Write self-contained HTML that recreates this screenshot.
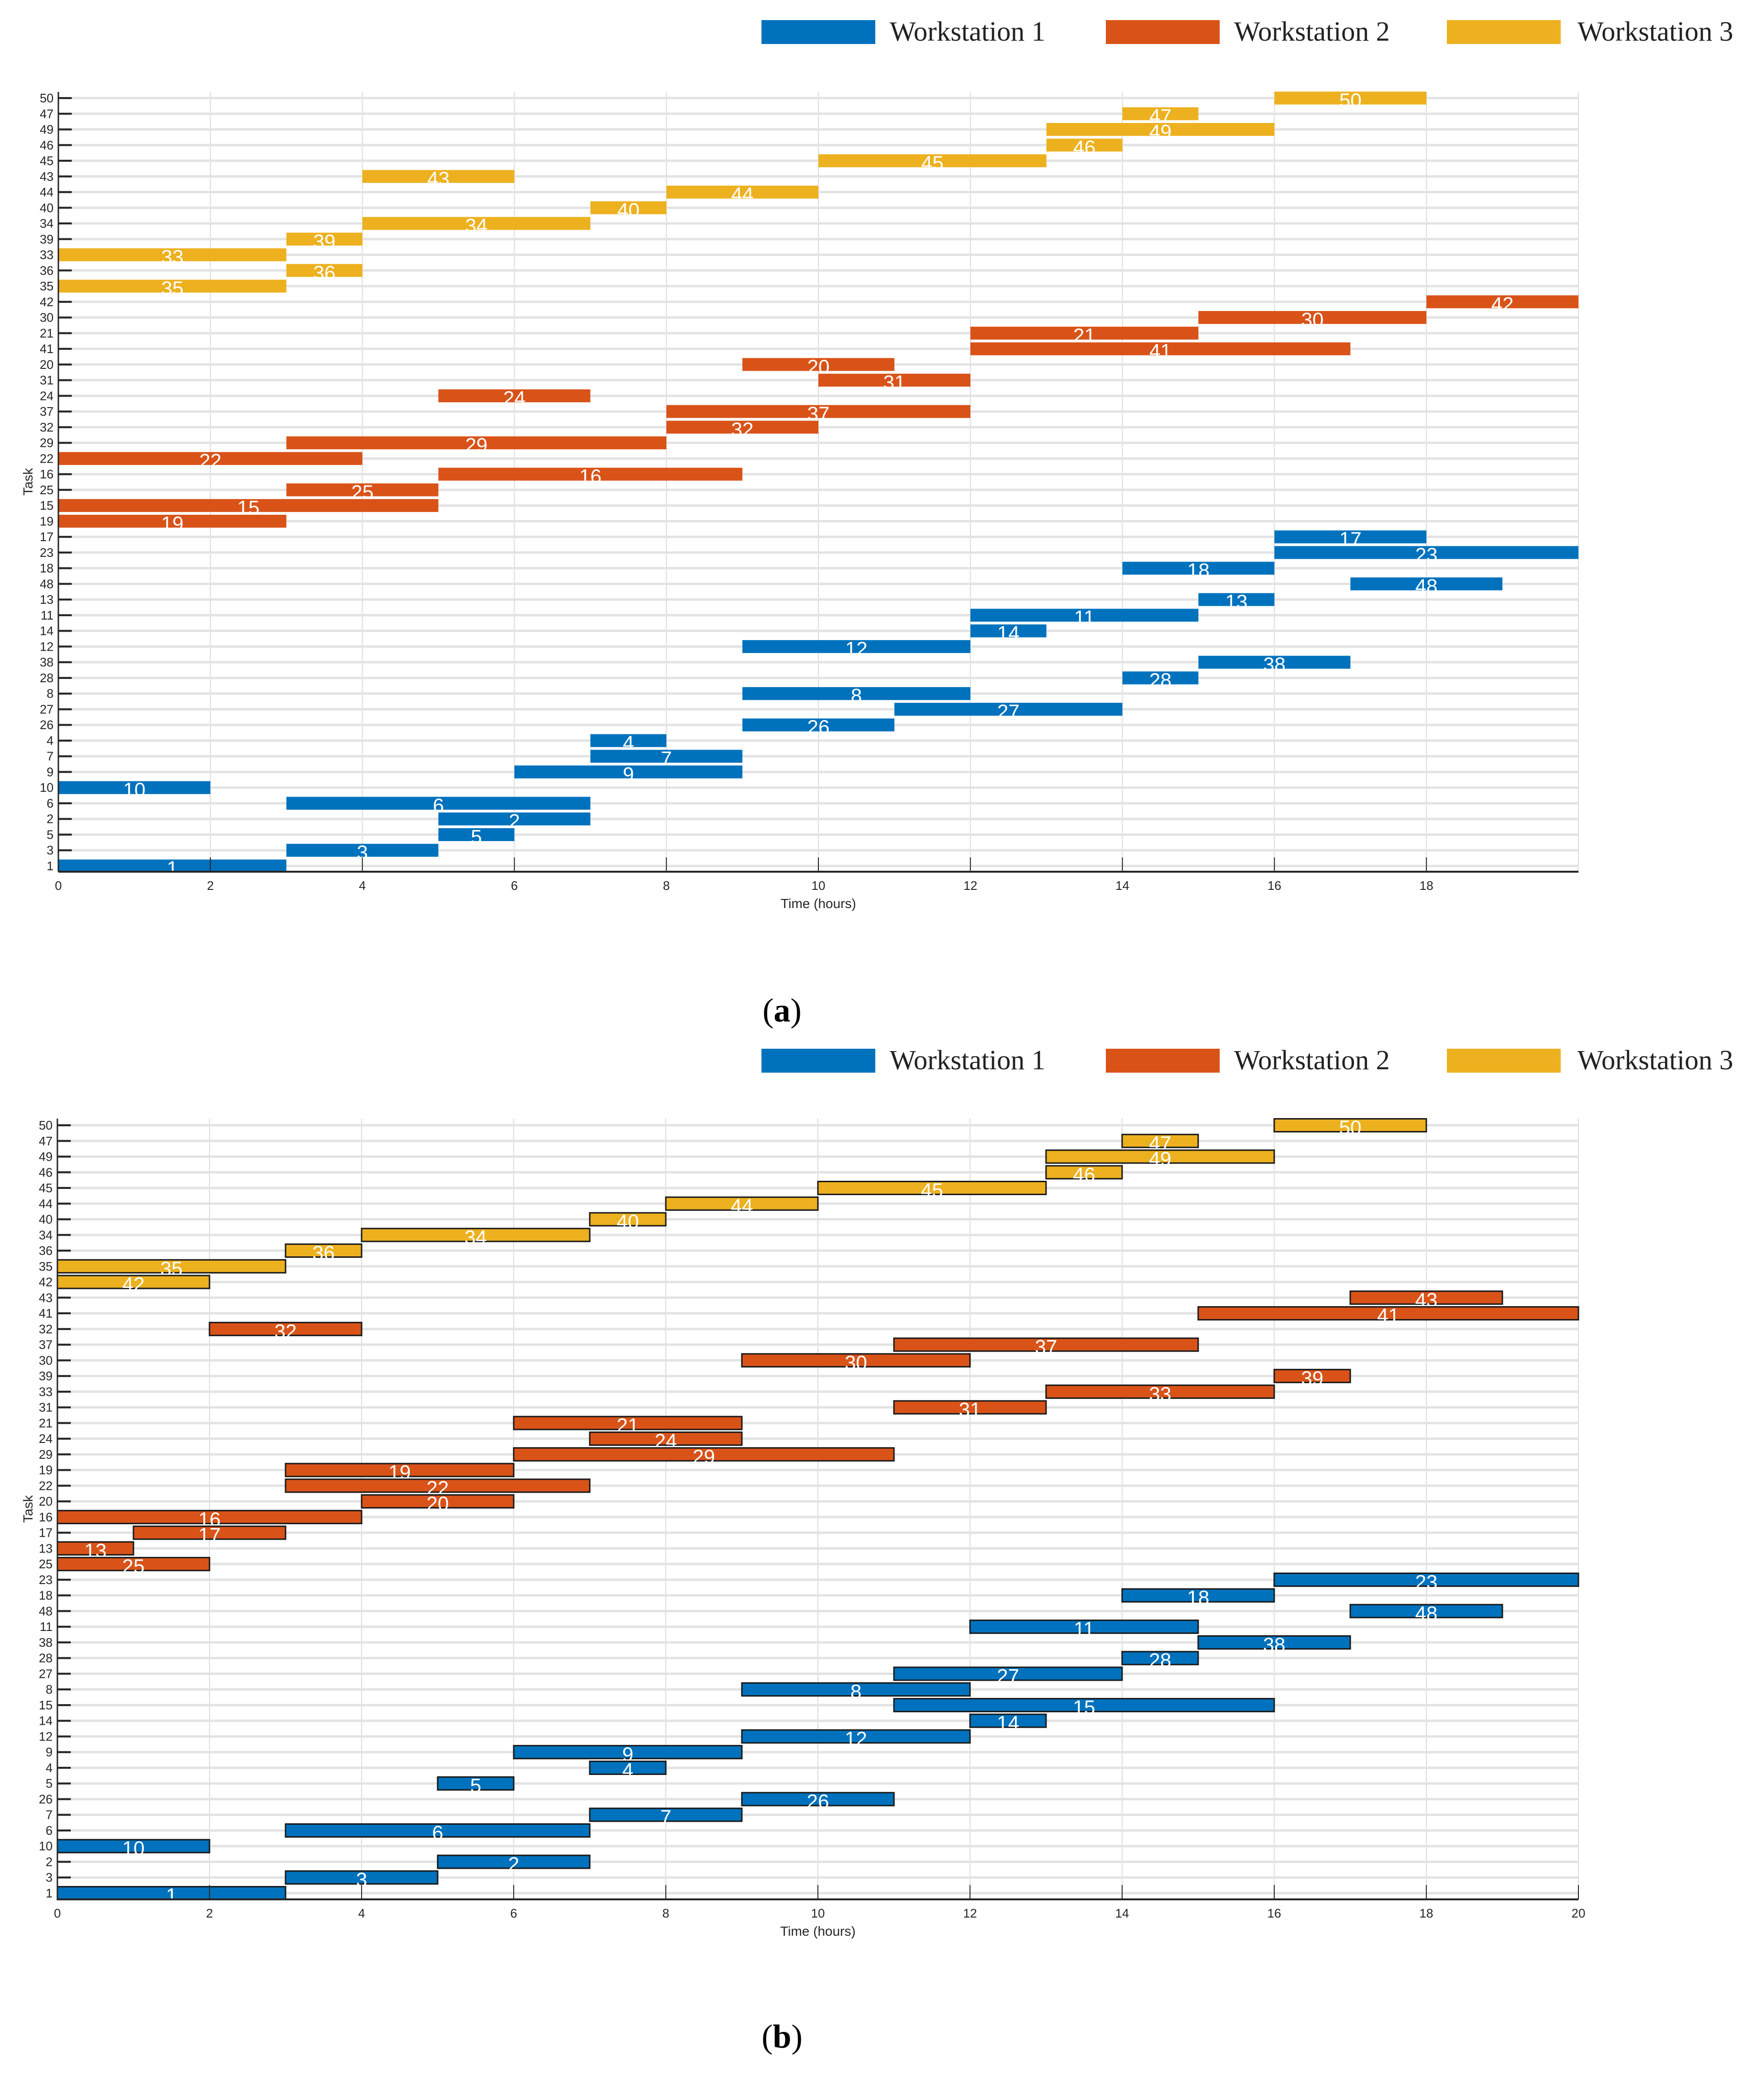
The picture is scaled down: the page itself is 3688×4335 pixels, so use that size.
<!DOCTYPE html>
<html><head><meta charset="utf-8"><style>
html,body{margin:0;padding:0;background:#fff;}
svg{display:block;}
</style></head><body>
<svg id="root" width="3688" height="4335" viewBox="0 0 3688 4335" xmlns="http://www.w3.org/2000/svg" font-family="Liberation Sans, sans-serif"></svg>
<script>
// ---- Chart (a) data ----
const tasksA = [50,47,49,46,45,43,44,40,34,39,33,36,35,42,30,21,41,20,31,24,37,32,29,22,16,25,15,19,17,23,18,48,13,11,14,12,38,28,8,27,26,4,7,9,10,6,2,5,3,1];
const startA = [16,14,13,13,10,4,8,7,4,3,0,3,0,18,15,12,12,9,10,5,8,8,3,0,5,3,0,0,16,16,14,17,15,12,12,9,15,14,9,11,9,7,7,6,0,3,5,5,3,0];
const endA   = [18,15,16,14,13,6,10,8,7,4,3,4,3,20,18,15,17,11,12,7,12,10,8,4,9,5,5,3,18,20,16,19,16,15,13,12,17,15,12,14,11,8,9,9,2,7,7,6,5,3];
const wsA    = [3,3,3,3,3,3,3,3,3,3,3,3,3,2,2,2,2,2,2,2,2,2,2,2,2,2,2,2,1,1,1,1,1,1,1,1,1,1,1,1,1,1,1,1,1,1,1,1,1,1];
const xTicksA = [0,2,4,6,8,10,12,14,16,18];
// ---- Chart (b) data ----
const tasksB = [50,47,49,46,45,44,40,34,36,35,42,43,41,32,37,30,39,33,31,21,24,29,19,22,20,16,17,13,25,23,18,48,11,38,28,27,8,15,14,12,9,4,5,26,7,6,10,2,3,1];
const startB = [16,14,13,13,10,8,7,4,3,0,0,17,15,2,11,9,16,13,11,6,7,6,3,3,4,0,1,0,0,16,14,17,12,15,14,11,9,11,12,9,6,7,5,9,7,3,0,5,3,0];
const endB   = [18,15,16,14,13,10,8,7,4,3,2,19,20,4,15,12,17,16,13,9,9,11,6,7,6,4,3,1,2,20,16,19,15,17,15,14,12,16,13,12,9,8,6,11,9,7,2,7,5,3];
const wsB    = [3,3,3,3,3,3,3,3,3,3,3,2,2,2,2,2,2,2,2,2,2,2,2,2,2,2,2,2,2,1,1,1,1,1,1,1,1,1,1,1,1,1,1,1,1,1,1,1,1,1];
const xTicksB = [0,2,4,6,8,10,12,14,16,18,20];
const legendLabels = ["Workstation 1","Workstation 2","Workstation 3"];

const NS="http://www.w3.org/2000/svg";
const COLORS={1:"#0072BD",2:"#D95319",3:"#EDB120"};
const root=document.getElementById('root');
function mk(tag,attrs,parent,text){const e=document.createElementNS(NS,tag);for(const k in attrs)e.setAttribute(k,attrs[k]);if(text!==undefined)e.textContent=text;(parent||root).appendChild(e);return e;}

function legend(yTop,name){
  const g=mk('g',{});
  
  
  const xs=[[1592,1860],[2312,2580],[3025,3298]];
  legendLabels.forEach((lab,i)=>{
    const r=mk('rect',{x:xs[i][0],y:yTop,width:238,height:50,fill:COLORS[i+1]},g);
    
    
    const t=mk('text',{x:xs[i][1],y:yTop+43,'font-family':'Liberation Serif, serif','font-size':58,fill:'#222'},g,lab);
    
    
  });
}

function chart(cfg){
  const {tasks,start,end,ws,ticks,L,R,T,B,row1,row50,stroke,name}=cfg;
  const g=mk('g',{});
  
  
  const xMax=20;
  const X=v=>L+(R-L)*v/xMax;
  const n=tasks.length;
  const step=(row1-row50)/(n-1);
  const Y=i=>row50+i*step; // i = index from top
  // vertical grid
  for(let v=0;v<=xMax;v+=2){
    const l=mk('line',{x1:X(v),x2:X(v),y1:T,y2:B,stroke:'#dcdcdc','stroke-width':2},g);
    
    
  }
  // horizontal grid + y ticks
  tasks.forEach((t,i)=>{
    const l=mk('line',{x1:L,x2:R,y1:Y(i),y2:Y(i),stroke:'#e3e3e3','stroke-width':5},g);
    
    
    const tk=mk('line',{x1:L,x2:L+28,y1:Y(i),y2:Y(i),stroke:'#262626','stroke-width':4},g);
    
    
    const tl=mk('text',{x:L-10,y:Y(i)+9,'text-anchor':'end','font-size':26,fill:'#262626'},g,String(t));
    
    
  });
  // bars
  tasks.forEach((t,i)=>{
    const x0=X(start[i]),x1=X(end[i]);
    const r=mk('rect',{x:x0,y:Y(i)-13.5,width:x1-x0,height:27,fill:COLORS[ws[i]]},g);
    if(stroke){r.setAttribute('stroke','#1a1a1a');r.setAttribute('stroke-width',3);}
    
    
    const lb=mk('text',{x:(x0+x1)/2,y:Y(i)+19,'text-anchor':'middle','font-size':42,fill:'#fff'},g,String(t));
    
    
  });
  // x ticks
  ticks.forEach(v=>{
    const tk=mk('line',{x1:X(v),x2:X(v),y1:B,y2:B-30,stroke:'#262626','stroke-width':2},g);
    
    
    const tl=mk('text',{x:X(v),y:B+38,'text-anchor':'middle','font-size':26,fill:'#262626'},g,String(v));
    
    
  });
  // axes
  const ax=mk('line',{x1:L,x2:R,y1:B,y2:B,stroke:'#262626','stroke-width':4},g);
  
  
  const ay=mk('line',{x1:L,x2:L,y1:T,y2:B,stroke:'#262626','stroke-width':3},g);
  
  
  const xt=mk('text',{x:(L+R)/2,y:B+76,'text-anchor':'middle','font-size':28,fill:'#262626'},g,'Time (hours)');
  
  
  const cy=(T+B)/2;
  const yt=mk('text',{x:68,y:cy,'text-anchor':'middle','font-size':28,fill:'#262626',transform:`rotate(-90 68 ${cy})`},g,'Task');
  
  
}

function caption(y,letter,name){
  const t=mk('text',{x:1635,y:y,'text-anchor':'middle','font-family':'Liberation Serif, serif','font-size':70,fill:'#000'});
  
  
  const a=mk('tspan',{},t,'(');
  const b=mk('tspan',{'font-weight':'bold'},t,letter);
  const c=mk('tspan',{},t,')');
}

legend(42,'legend-a');
chart({tasks:tasksA,start:startA,end:endA,ws:wsA,ticks:xTicksA,L:122,R:3300,T:192,B:1822,row1:1810,row50:205,stroke:false,name:'chart-a'});
caption(2135,'a','caption-a');
legend(2192,'legend-b');
chart({tasks:tasksB,start:startB,end:endB,ws:wsB,ticks:xTicksB,L:120,R:3300,T:2338,B:3970,row1:3957,row50:2352,stroke:true,name:'chart-b'});
caption(4280,'b','caption-b');
</script>
</body></html>
